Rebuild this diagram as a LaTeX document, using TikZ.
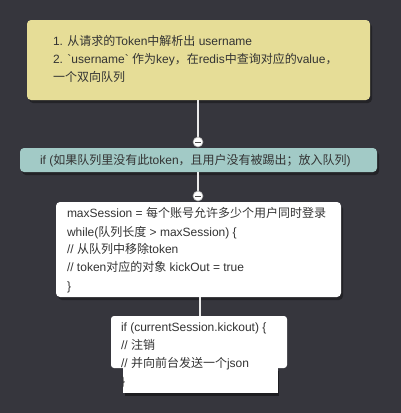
\documentclass[tikz,border=0pt]{standalone}
\usepackage{fontspec}
\setmainfont{Liberation Sans}
\newfontfamily\cj{Noto Sans CJK SC}
\newfontfamily\rawfont[Ligatures=TeXOff]{Liberation Sans}
\newcommand{\zh}[1]{{\cj #1}}
\newcommand{\btick}{{\rawfont\symbol{96}}}
\begin{document}
\begin{tikzpicture}[x=1pt,y=-1pt,
  every node/.style={inner sep=0pt,outer sep=0pt},
  boxbase/.style={rounded corners=4pt},
  txt/.style={anchor=base west,font=\fontsize{12}{13}\selectfont,text=black!80},
  conn/.style={draw=white!92!black,line width=2.2pt},
  knob/.style={circle,draw=gray!70,fill=white,line width=0.6pt,minimum size=10pt}]
\definecolor{bgc}{HTML}{36363D}
\definecolor{ylw}{HTML}{E6DD97}
\definecolor{tealc}{HTML}{A2CAC6}
\useasboundingbox (0,0) rectangle (401,413);
\fill[bgc] (0,0) rectangle (401,413);
% shadows
\fill[black,opacity=0.35,rounded corners=4pt] (29,23) rectangle (372,103);
\fill[black,opacity=0.35,rounded corners=4pt] (22,151) rectangle (379,175);
\fill[black,opacity=0.35,rounded corners=4pt] (58,205) rectangle (343,300);
\fill[black,opacity=0.45] (125,371) rectangle (279,396);
% boxes
\node[boxbase,fill=ylw,minimum width=343pt,minimum height=80pt,anchor=north west] (b1) at (27,20) {};
\node[boxbase,fill=tealc,minimum width=357pt,minimum height=24pt,anchor=north west] (b2) at (20,148) {};
\node[boxbase,fill=white,minimum width=285pt,minimum height=95pt,anchor=north west] (b3) at (56,202) {};
\node[fill=white,minimum width=176pt,minimum height=52pt,anchor=north west,rounded corners=3pt] (b4) at (111,316) {};
\node[fill=white,minimum width=155pt,minimum height=26pt,anchor=north west] (b4b) at (123,367) {};
% connectors
\coordinate (k1) at (198,142);
\coordinate (k2) at (198,196);
\draw[conn] (b1.south -| k1) -- (k1);
\draw[conn] (b2.south -| k2) -- (k2);
\draw[conn] (b3.south -| 200,0) -- (b4.north -| 200,0);
\node[knob] (kn1) at (k1) {};
\node[knob] (kn2) at (k2) {};
\draw[black!70,line width=0.8pt] ([xshift=-3pt]kn1.center) -- ([xshift=3pt]kn1.center);
\draw[black!70,line width=0.8pt] ([xshift=-3pt]kn2.center) -- ([xshift=3pt]kn2.center);
% texts
\node[txt] (t11) at (53,45) {1. \zh{从请求的}Token\zh{中解析出} username};
\node[txt] (t12) at (53,63) {2. \btick username\btick\ \zh{作为}key\zh{，在}redis\zh{中查询对应的}value\zh{，}};
\node[txt] (t13) at (53,81) {\zh{一个双向队列}};
\node[txt] (t21) at (40,164.5) {if (\zh{如果队列里没有此}token\zh{，且用户没有被踢出；放入队列})};
\node[txt] (t31) at (67,217) {maxSession = \zh{每个账号允许多少个用户同时登录}};
\node[txt] (t32) at (67,236) {while(\zh{队列长度} > maxSession) \{};
\node[txt] (t33) at (67,253.5) {// \zh{从队列中移除}token};
\node[txt] (t34) at (67,271.5) {// token\zh{对应的对象} kickOut = true};
\node[txt] (t35) at (67,290) {\}};
\node[txt] (t41) at (121,331) {if (currentSession.kickout) \{};
\node[txt] (t42) at (121,349) {// \zh{注销}};
\node[txt] (t43) at (121,367) {// \zh{并向前台发送一个}json};
\node[txt] (t44) at (121,385) {\}};
\end{tikzpicture}
\end{document}
